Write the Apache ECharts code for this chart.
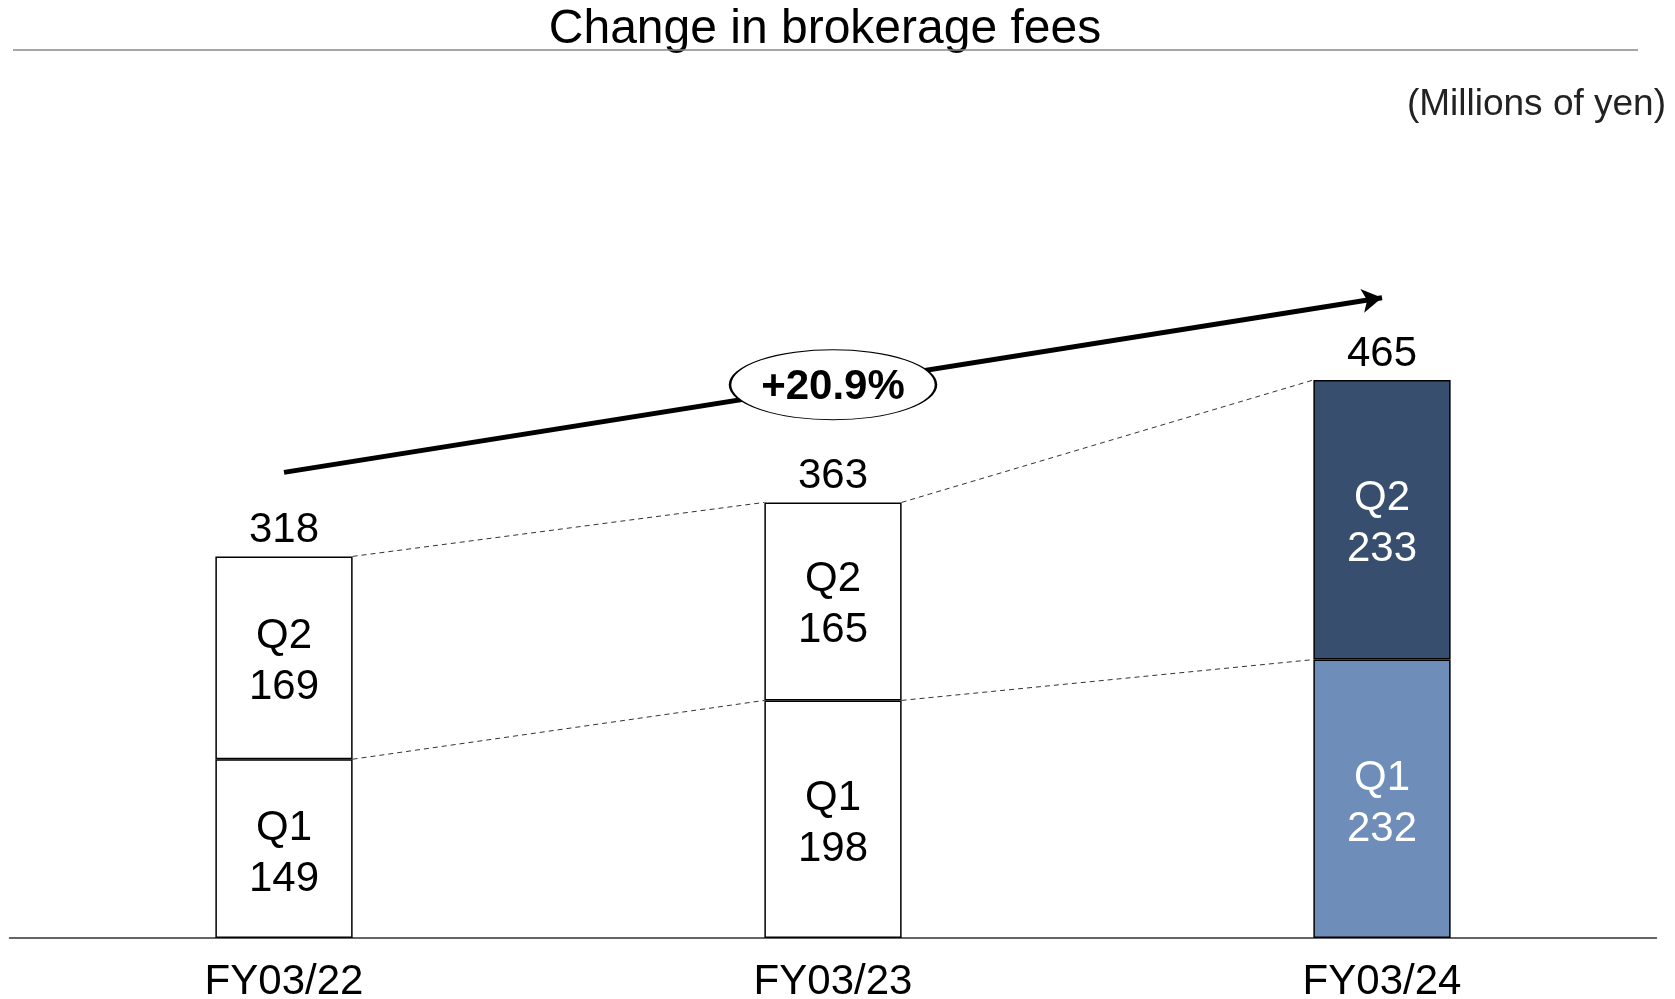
<!DOCTYPE html>
<html>
<head>
<meta charset="utf-8">
<script src="https://cdn.jsdelivr.net/npm/echarts@6/dist/echarts.min.js"></script>
<style>html,body{margin:0;padding:0;background:#fff}#c{width:1675px;height:999px}</style>
</head>
<body>
<div id="c"></div>
<script>
const categories = ['FY03/22', 'FY03/23', 'FY03/24'];
const q1Values = [149, 198, 232];
const q2Values = [169, 165, 233];
const totalValues = [318, 363, 465];
const growthText = '+20.9%';
const titleText = 'Change in brokerage fees';
const unitText = '(Millions of yen)';

const FONT = '"Liberation Sans", Arial, sans-serif';
const plainFill = '#ffffff';
const q1Colors = [plainFill, plainFill, '#6e8db8'];
const q2Colors = [plainFill, plainFill, '#384e6e'];
const textColors = ['#000', '#000', '#fff'];
const BAR_FRAC = 0.25;
const FS = 42;

const chart = echarts.init(document.getElementById('c'));

function barItems(vals, colors, name) {
  return vals.map((v, i) => ({
    value: v,
    itemStyle: { color: colors[i], borderColor: '#000', borderWidth: 1.5 },
    label: { color: textColors[i], formatter: name + '\n' + v }
  }));
}

const option = {
  animation: false,
  backgroundColor: '#fff',
  grid: { left: 9.5, right: 18.5, top: 218, bottom: 61, containLabel: false, outerBoundsMode: 'none' },
  xAxis: {
    type: 'category',
    data: categories,
    axisTick: { show: false },
    axisLine: { lineStyle: { color: '#333', width: 1.5 } },
    axisLabel: { fontFamily: FONT, fontSize: FS, color: '#000', margin: 23 }
  },
  yAxis: {
    type: 'value', min: 0, max: 600, show: false,
    splitLine: { show: false }
  },
  series: [
    {
      name: 'Q1', type: 'bar', stack: 's', barWidth: (BAR_FRAC * 100) + '%',
      data: barItems(q1Values, q1Colors, 'Q1'),
      label: { show: true, position: 'inside', offset: [0, 5], fontFamily: FONT, fontSize: FS, lineHeight: 51 },
      z: 3
    },
    {
      name: 'Q2', type: 'bar', stack: 's', barWidth: (BAR_FRAC * 100) + '%',
      data: barItems(q2Values, q2Colors, 'Q2'),
      label: { show: true, position: 'inside', offset: [0, 4], fontFamily: FONT, fontSize: FS, lineHeight: 51 },
      z: 3
    },
    {
      name: 'Total', type: 'custom',
      data: totalValues.map((v, i) => [i, v]),
      z: 4,
      silent: true,
      encode: { x: 0, y: 1 },
      renderItem: function (params, api) {
        const p = api.coord([api.value(0), api.value(1)]);
        return {
          type: 'text',
          x: p[0], y: p[1] - 5,
          style: { text: String(api.value(1)), font: FS + 'px ' + FONT, fill: '#000', textAlign: 'center', textVerticalAlign: 'bottom' }
        };
      },
      markLine: {
        silent: true,
        symbol: ['none', 'arrow'],
        symbolSize: [18, 20],
        label: { show: false },
        lineStyle: { color: '#000', width: 5, type: 'solid' },
        data: [[{ coord: [0, 388] }, { coord: [2, 533.5] }]],
        z: 5
      },
      markPoint: {
        silent: true,
        symbol: 'path://M0,35 A103,35 0 1,1 206,35 A103,35 0 1,1 0,35 Z',
        symbolSize: [206, 70],
        symbolKeepAspect: false,
        itemStyle: { color: '#fff', borderColor: '#000', borderWidth: 1.5 },
        label: { show: true, position: 'inside', offset: [0, 3], formatter: growthText, fontFamily: FONT, fontSize: 42, fontWeight: 'bold', color: '#000' },
        data: [{ coord: [1, 461] }],
        z: 6
      }
    },
    {
      name: 'connectors', type: 'custom',
      data: [0, 1],
      z: 2,
      silent: true,
      renderItem: function (params, api) {
        const i = api.value(0);
        const half = api.size([1, 0])[0] * BAR_FRAC / 2;
        const levels = [[q1Values[i], q1Values[i + 1]], [totalValues[i], totalValues[i + 1]]];
        const children = levels.map(l => {
          const a = api.coord([i, l[0]]);
          const b = api.coord([i + 1, l[1]]);
          return {
            type: 'line',
            shape: { x1: a[0] + half, y1: a[1], x2: b[0] - half, y2: b[1] },
            style: { stroke: '#333', lineWidth: 1, lineDash: [5, 4] }
          };
        });
        return { type: 'group', children: children };
      },
      encode: { x: 0 }
    }
  ],
  graphic: [
    { type: 'text', x: 825, y: 30, style: { text: titleText, font: '48px ' + FONT, fill: '#000', textAlign: 'center', textVerticalAlign: 'middle' } },
    { type: 'line', shape: { x1: 13, y1: 50, x2: 1638, y2: 50 }, style: { stroke: '#888', lineWidth: 1.5 } },
    { type: 'text', x: 1666, y: 105, style: { text: unitText, font: '37px ' + FONT, fill: '#222', textAlign: 'right', textVerticalAlign: 'middle' } }
  ]
};
chart.setOption(option);
</script>
</body>
</html>
